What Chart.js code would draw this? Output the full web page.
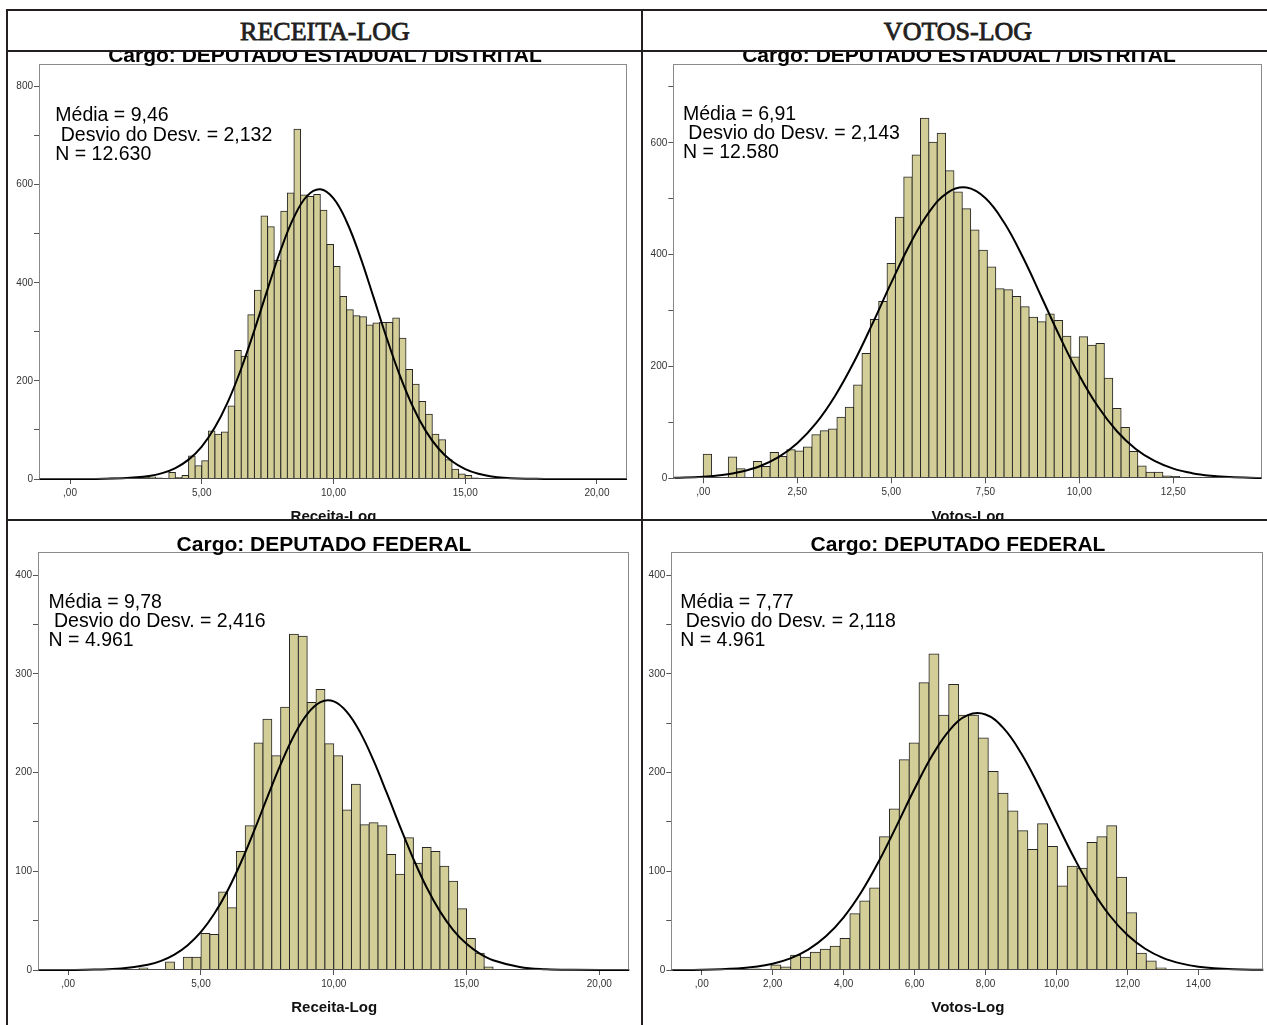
<!DOCTYPE html>
<html lang="pt">
<head>
<meta charset="utf-8">
<title>Receita-Log / Votos-Log</title>
<script src="https://cdn.jsdelivr.net/npm/chart.js@4.4.1/dist/chart.umd.min.js"></script>
<style>
  html, body { margin: 0; padding: 0; background: #fff; }
  body { position: relative; width: 1267px; height: 1025px; overflow: hidden;
         font-family: "Liberation Sans", Arial, sans-serif; }
  .rule { position: absolute; background: #231f20; }
  .head { position: absolute; top: 19px; height: 26px; line-height: 26px; font-size: 26px;
          font-family: "Liberation Serif", "Times New Roman", serif; color: #231f20;
          transform: translateX(-50%); white-space: nowrap; -webkit-text-stroke: 0.8px #231f20; }
  .cell { position: absolute; overflow: hidden; }
  .cell canvas { position: absolute; left: 0; top: 0; }
  .ptitle { position: absolute; font-size: 21px; line-height: 21px; font-weight: bold; color: #000;
            transform: translateX(-50%); white-space: nowrap; }
</style>
</head>
<body>
<!-- table rules -->
<div class="rule" style="left:6px;top:9px;width:1261px;height:2px"></div>
<div class="rule" style="left:6px;top:9px;width:2px;height:1016px"></div>
<div class="rule" style="left:6px;top:50px;width:1261px;height:2px"></div>
<div class="rule" style="left:641px;top:9px;width:2px;height:1016px"></div>
<div class="rule" style="left:6px;top:519px;width:1261px;height:2px"></div>

<div class="head" style="left:325px">RECEITA-LOG</div>
<div class="head" style="left:958px">VOTOS-LOG</div>

<div class="cell" style="left:8px;top:52px;width:633px;height:467px">
  <canvas id="c1" width="633" height="480"></canvas>
  <div class="ptitle" style="left:317px;top:-8px">Cargo: DEPUTADO ESTADUAL / DISTRITAL</div>
</div>
<div class="cell" style="left:643px;top:52px;width:624px;height:467px">
  <canvas id="c2" width="624" height="480"></canvas>
  <div class="ptitle" style="left:316px;top:-8px">Cargo: DEPUTADO ESTADUAL / DISTRITAL</div>
</div>
<div class="cell" style="left:8px;top:521px;width:633px;height:504px">
  <canvas id="c3" width="633" height="504"></canvas>
  <div class="ptitle" style="left:316px;top:12px">Cargo: DEPUTADO FEDERAL</div>
</div>
<div class="cell" style="left:643px;top:521px;width:624px;height:504px">
  <canvas id="c4" width="624" height="504"></canvas>
  <div class="ptitle" style="left:315px;top:12px">Cargo: DEPUTADO FEDERAL</div>
</div>

<script>
// ---- Receita-Log, Deputado Estadual / Distrital ----
const receitaEstBinStart = 1.5;
const receitaEstBinWidth = 0.25;
const receitaEstCounts = [
  2, 1, 0, 1, 2, 3, 4, 2, 1, 13, 3, 7, 47, 27, 37, 98, 91, 96, 149, 262,
  250, 335, 385, 536, 514, 446, 546, 583, 713, 579, 576, 580, 548, 478, 433, 372,
  345, 333, 331, 314, 318, 319, 319, 328, 287, 223, 193, 158, 132, 91, 80, 39,
  20, 10, 7, 2, 1
];
const receitaEstCurveX = [-1.14, 0, 1, 2, 3, 3.5, 4, 4.5, 5, 5.5, 6, 6.5, 7, 7.5, 8, 8.5, 9, 9.5,
  10, 10.5, 11, 11.5, 12, 12.5, 13, 13.5, 14, 14.5, 15, 15.5, 16, 17, 18, 19, 21.14];
const receitaEstCurveY = [0, 0.03, 0.2, 1.3, 6.0, 11.9, 22.3, 39.5, 66.2, 105.3, 158.3, 225.3,
  303.6, 387.2, 467.3, 533.8, 577.2, 590.7, 572.1, 524.5, 455.2, 373.8, 290.6, 213.8, 148.9,
  98.1, 61.2, 36.1, 20.2, 10.7, 5.3, 1.1, 0.2, 0, 0];
const receitaEstStats = ['Média = 9,46', ' Desvio do Desv. = 2,132', 'N = 12.630'];

// ---- Votos-Log, Deputado Estadual / Distrital ----
const votosEstBinStart = 0;
const votosEstBinWidth = 0.2222;
const votosEstCounts = [
  43, 0, 0, 38, 17, 0, 30, 21, 46, 39, 51, 49, 56, 78, 85, 88, 109, 127, 167, 223,
  284, 316, 384, 467, 539, 578, 644, 601, 617, 550, 512, 482, 444, 408, 378, 339,
  337, 325, 307, 288, 280, 294, 282, 254, 217, 253, 238, 241, 179, 125, 91, 48,
  22, 11, 11, 4, 3
];
const votosEstCurveX = [-0.77, 0, 0.5, 1, 1.5, 2, 2.5, 3, 3.5, 4, 4.5, 5, 5.5, 6, 6.5, 7, 7.5,
  8, 8.5, 9, 9.5, 10, 10.5, 11, 11.5, 12, 12.5, 13, 13.5, 14, 14.85];
const votosEstCurveY = [0.85, 2.9, 5.9, 11.6, 21.5, 37.7, 62.6, 98.5, 146.8, 207.0, 276.5,
  349.8, 419.1, 475.6, 511.0, 519.9, 501.1, 457.3, 395.2, 323.4, 250.7, 184.0, 127.9, 84.2,
  52.5, 31.0, 17.3, 9.2, 4.6, 2.2, 0.5];
const votosEstStats = ['Média = 6,91', ' Desvio do Desv. = 2,143', 'N = 12.580'];

// ---- Receita-Log, Deputado Federal ----
const receitaFedBinStart = 1.6667;
const receitaFedBinWidth = 0.33333;
const receitaFedCounts = [
  1, 0, 0, 2, 0, 0, 8, 0, 13, 13, 37, 36, 79, 63, 120, 146, 230, 254, 217, 266,
  340, 338, 271, 284, 229, 217, 162, 188, 147, 149, 146, 117, 97, 134, 108, 124,
  120, 105, 90, 62, 32, 17, 3
];
const receitaFedCurveX = [-1.1, 0, 1, 2, 3, 3.5, 4, 4.5, 5, 5.5, 6, 6.5, 7, 7.5, 8, 8.5, 9, 9.5,
  10, 10.5, 11, 11.5, 12, 12.5, 13, 13.5, 14, 14.5, 15, 15.5, 16, 17, 18, 19, 21.13];
const receitaFedCurveY = [0, 0.08, 0.4, 1.5, 5.3, 9.3, 15.6, 25.1, 38.6, 56.9, 80.3, 108.6,
  140.9, 175.0, 208.2, 237.3, 259.2, 271.3, 272.0, 261.2, 240.4, 212.0, 179.0, 144.9, 112.4,
  83.5, 59.4, 40.5, 26.5, 16.6, 9.9, 3.1, 0.8, 0.2, 0];
const receitaFedStats = ['Média = 9,78', ' Desvio do Desv. = 2,416', 'N = 4.961'];

// ---- Votos-Log, Deputado Federal ----
const votosFedBinStart = 0.8355;
const votosFedBinWidth = 0.2785;
const votosFedCounts = [
  1, 0, 1, 0, 5, 3, 15, 13, 18, 21, 24, 32, 57, 70, 83, 135, 163, 213, 230, 291,
  320, 258, 289, 258, 258, 235, 201, 179, 161, 141, 122, 148, 125, 85, 105, 103,
  129, 135, 146, 94, 58, 17, 9, 2
];
const votosFedCurveX = [-0.83, 0, 1, 1.5, 2, 2.5, 3, 3.5, 4, 4.5, 5, 5.5, 6, 6.5, 7, 7.5, 8,
  8.5, 9, 9.5, 10, 10.5, 11, 11.5, 12, 12.5, 13, 13.5, 14, 15, 15.83];
const votosFedCurveY = [0.07, 0.31, 1.6, 3.3, 6.4, 11.8, 20.6, 34.1, 53.4, 79.0, 110.6, 146.5,
  183.5, 217.4, 243.5, 258.1, 258.7, 245.2, 219.8, 186.4, 149.5, 113.4, 81.3, 55.2, 35.4,
  21.5, 12.3, 6.7, 3.4, 0.8, 0.2];
const votosFedStats = ['Média = 7,77', ' Desvio do Desv. = 2,118', 'N = 4.961'];

Chart.defaults.font.family = '"Liberation Sans", Arial, sans-serif';
Chart.defaults.color = '#333';

const BAR_FILL = '#d3ce97';
const BAR_EDGE = '#262626';

// SPSS-style comma decimals: 0 -> ",00", 2.5 -> "2,50"
function fmtComma(v) {
  return v === 0 ? ',00' : v.toFixed(2).replace('.', ',');
}

// Grey box around the plot area, drawn over the bars.
const framePlugin = {
  id: 'spssFrame',
  afterDatasetsDraw(chart) {
    const a = chart.chartArea;
    const ctx = chart.ctx;
    const l = Math.round(a.left) - 0.5, t = Math.round(a.top) - 0.5;
    const r = Math.round(a.right) - 0.5, b = Math.round(a.bottom) - 0.5;
    ctx.save();
    ctx.strokeStyle = '#8a8a8a';
    ctx.lineWidth = 1;
    ctx.strokeRect(l, t, r - l, b - t);
    ctx.strokeStyle = '#4a4a4a';
    ctx.beginPath();
    ctx.moveTo(l, b);
    ctx.lineTo(r, b);
    ctx.stroke();
    ctx.restore();
  },
};

// Mean / std dev / N block in the upper-left of the plot.
const statsPlugin = {
  id: 'spssStats',
  afterDraw(chart, args, opts) {
    if (!opts.lines) {
      return;
    }
    const a = chart.chartArea;
    const ctx = chart.ctx;
    ctx.save();
    ctx.font = '19.5px "Liberation Sans", Arial, sans-serif';
    ctx.fillStyle = '#000';
    ctx.textAlign = 'left';
    ctx.textBaseline = 'middle';
    opts.lines.forEach((t, i) => {
      ctx.fillText(t, a.left + opts.dx, a.top + opts.dy + i * 19.2);
    });
    ctx.restore();
  },
};

function histogram(id, p) {
  const bars = p.counts.map((c, i) => ({ x: p.binStart + (i + 0.5) * p.binWidth, y: c }));
  const curve = p.curveX.map((x, i) => ({ x, y: p.curveY[i] }));
  return new Chart(document.getElementById(id), {
    type: 'bar',
    data: {
      datasets: [
        {
          type: 'line',
          data: curve,
          borderColor: '#000',
          borderWidth: 2,
          pointRadius: 0,
          tension: 0.4,
          fill: false,
          clip: 2,
          order: 0,
        },
        {
          type: 'bar',
          data: bars,
          backgroundColor: BAR_FILL,
          borderColor: BAR_EDGE,
          borderWidth: 1,
          borderSkipped: 'start',
          inflateAmount: 0.5,
          barPercentage: 1,
          categoryPercentage: 1,
          order: 1,
        },
      ],
    },
    options: {
      responsive: false,
      animation: false,
      events: [],
      layout: { padding: { left: 0, top: p.padTop, right: p.padRight, bottom: 0 } },
      plugins: {
        legend: { display: false },
        tooltip: { enabled: false },
        spssStats: { lines: p.stats, dx: p.statsDx, dy: p.statsDy },
      },
      scales: {
        x: {
          type: 'linear',
          min: p.xMin,
          max: p.xMax,
          offset: false,
          grid: { display: true, drawOnChartArea: false, drawTicks: true, tickLength: 5,
                  color: '#555', offset: false },
          border: { display: false },
          ticks: {
            stepSize: p.xStep,
            includeBounds: false,
            autoSkip: false,
            maxRotation: 0,
            padding: 3,
            color: '#333',
            font: { size: 10 },
            callback: (v) => fmtComma(v),
          },
          title: {
            display: true,
            text: p.xTitle,
            color: '#111',
            font: { size: 15, weight: 'bold' },
            padding: { top: 0, bottom: p.titlePad },
          },
          afterFit: (scale) => { scale.height = p.xAxisH; },
        },
        y: {
          min: 0,
          max: p.yMax,
          grid: { display: true, drawOnChartArea: false, drawTicks: true, tickLength: 6,
                  color: '#555' },
          border: { display: false },
          ticks: {
            stepSize: p.yStep,
            includeBounds: false,
            autoSkip: false,
            padding: 1,
            color: '#333',
            font: { size: 10 },
            callback: (v) => (v % p.yLabelEvery === 0 ? String(v) : ''),
          },
          afterFit: (scale) => { scale.width = p.yAxisW; },
        },
      },
    },
    plugins: [framePlugin, statsPlugin],
  });
}

histogram('c1', {
  binStart: receitaEstBinStart, binWidth: receitaEstBinWidth, counts: receitaEstCounts,
  curveX: receitaEstCurveX, curveY: receitaEstCurveY, stats: receitaEstStats,
  xTitle: 'Receita-Log', xMin: -1.139, xMax: 21.14, xStep: 5,
  yMax: 845, yStep: 100, yLabelEvery: 200,
  padTop: 12.5, padRight: 14, yAxisW: 32, xAxisH: 53, titlePad: 6,
  statsDx: 15.3, statsDy: 51.5,
});

histogram('c2', {
  binStart: votosEstBinStart, binWidth: votosEstBinWidth, counts: votosEstCounts,
  curveX: votosEstCurveX, curveY: votosEstCurveY, stats: votosEstStats,
  xTitle: 'Votos-Log', xMin: -0.77, xMax: 14.85, xStep: 2.5,
  yMax: 740, yStep: 100, yLabelEvery: 200,
  padTop: 12.5, padRight: 5.3, yAxisW: 31.3, xAxisH: 53.7, titlePad: 6,
  statsDx: 8.6, statsDy: 49.8,
});

histogram('c3', {
  binStart: receitaFedBinStart, binWidth: receitaFedBinWidth, counts: receitaFedCounts,
  curveX: receitaFedCurveX, curveY: receitaFedCurveY, stats: receitaFedStats,
  xTitle: 'Receita-Log', xMin: -1.1, xMax: 21.13, xStep: 5,
  yMax: 422.6, yStep: 50, yLabelEvery: 100,
  padTop: 31.7, padRight: 11.7, yAxisW: 31, xAxisH: 55, titlePad: 8,
  statsDx: 9.6, statsDy: 50,
});

histogram('c4', {
  binStart: votosFedBinStart, binWidth: votosFedBinWidth, counts: votosFedCounts,
  curveX: votosFedCurveX, curveY: votosFedCurveY, stats: votosFedStats,
  xTitle: 'Votos-Log', xMin: -0.83, xMax: 15.83, xStep: 2,
  yMax: 422.6, yStep: 50, yLabelEvery: 100,
  padTop: 31.7, padRight: 3.7, yAxisW: 29.3, xAxisH: 55, titlePad: 8,
  statsDx: 8, statsDy: 50,
});
</script>
</body>
</html>
